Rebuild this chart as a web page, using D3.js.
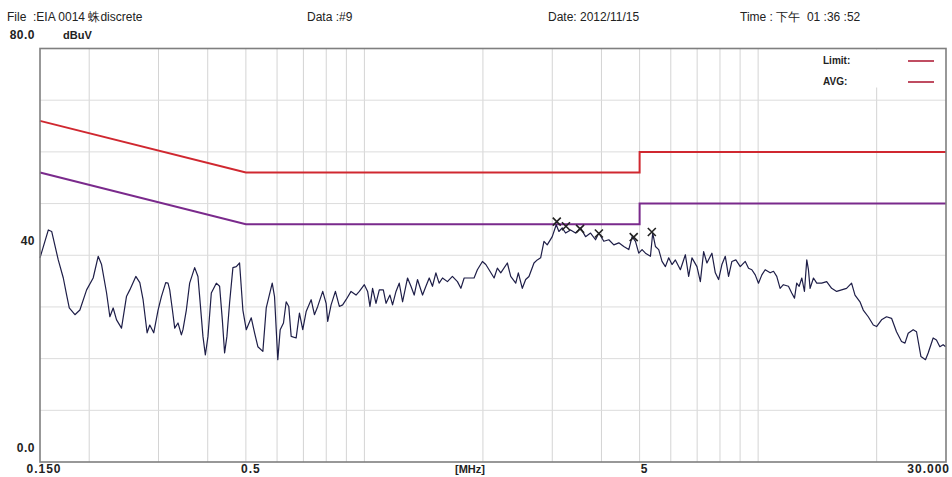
<!DOCTYPE html>
<html><head><meta charset="utf-8">
<script src="https://cdn.jsdelivr.net/npm/d3@7"></script>
<style>html,body{margin:0;padding:0;background:#fff;}</style>
</head><body>
<svg id="chart" width="952" height="477"></svg>
<script>
// ---- data (MHz, dBuV) ----
const freqMHz = [0.150,0.1575,0.1606,0.1669,0.1719,0.1753,0.1780,0.1840,0.1894,0.1970,0.2047,0.2108,0.2150,0.2214,0.2257,0.2301,0.2347,0.2416,0.2487,0.2536,0.2627,0.2689,0.2741,0.2806,0.2850,0.2917,0.2992,0.3051,0.3129,0.3171,0.3203,0.3254,0.3298,0.3362,0.3429,0.3461,0.3530,0.3599,0.3706,0.3778,0.3816,0.3890,0.3945,0.4006,0.4085,0.4206,0.4288,0.4357,0.4415,0.4475,0.4546,0.4635,0.4727,0.4819,0.4913,0.5011,0.5160,0.5261,0.5363,0.5522,0.5632,0.5833,0.5912,0.6026,0.6111,0.6230,0.6329,0.6426,0.6517,0.6709,0.6840,0.6973,0.7113,0.7324,0.7466,0.7611,0.7837,0.7994,0.8069,0.8230,0.8440,0.8638,0.8806,0.8983,0.9249,0.9522,0.9708,0.9996,1.019,1.033,1.049,1.070,1.091,1.117,1.135,1.161,1.179,1.203,1.226,1.250,1.287,1.313,1.338,1.364,1.405,1.433,1.461,1.489,1.519,1.548,1.579,1.625,1.673,1.723,1.758,1.792,1.845,1.899,1.936,1.994,2.034,2.073,2.135,2.176,2.220,2.307,2.353,2.423,2.460,2.518,2.568,2.618,2.696,2.748,2.803,2.858,2.913,3.000,3.070,3.119,3.180,3.243,3.339,3.438,3.540,3.645,3.753,3.864,3.939,4.056,4.176,4.300,4.427,4.558,4.693,4.785,4.880,4.975,5.072,5.174,5.327,5.398,5.484,5.591,5.700,5.814,5.927,6.043,6.163,6.346,6.534,6.661,6.791,6.992,7.132,7.271,7.412,7.631,7.784,7.935,8.090,8.252,8.412,8.576,8.778,9.007,9.274,9.454,9.638,9.831,10.02,10.22,10.42,10.73,10.94,11.15,11.37,11.59,11.94,12.17,12.37,12.53,12.71,12.91,13.11,13.29,13.42,13.55,13.82,14.09,14.50,14.93,15.37,15.83,16.29,16.77,17.27,17.62,18.14,18.49,19.04,19.61,19.99,20.58,21.19,21.82,22.46,23.13,23.60,24.05,24.76,25.25,25.91,26.61,27.03,27.83,28.37,28.94,29.50,29.95];
const levelDbuV = [39.5,44.9,44.6,39.1,35.6,32.3,29.8,28.5,29.4,33.3,35.6,39.8,38.2,32.7,28.1,29.8,27.5,25.9,32.0,33.3,35.9,34.7,31.4,25.0,26.5,25.0,29.4,32.0,34.7,34.6,33.3,29.4,25.9,26.9,24.6,25.6,29.4,34.6,37.6,35.9,32.0,24.3,20.7,24.3,32.7,34.6,34.0,27.5,21.1,24.3,30.8,37.6,37.8,38.5,29.4,25.6,27.9,25.0,22.3,21.4,29.8,34.6,32.0,19.8,25.6,26.9,31.0,30.1,24.3,24.0,28.8,25.6,29.1,31.4,28.5,30.1,33.0,30.7,27.2,30.4,33.0,30.1,30.4,31.4,33.0,32.3,33.0,34.3,33.0,30.1,33.6,30.7,33.3,33.3,30.7,32.3,30.4,33.0,34.6,31.0,35.6,34.0,32.3,35.3,32.3,34.0,35.6,34.0,36.6,34.6,35.6,34.9,35.9,34.9,33.6,35.6,35.6,35.6,37.2,38.8,38.2,37.2,35.6,37.5,36.6,38.5,35.9,34.6,36.6,33.6,35.3,35.9,38.5,39.1,39.5,42.7,42.0,43.6,45.9,44.6,45.3,44.3,44.9,44.3,45.3,43.6,44.3,43.0,44.3,42.7,43.0,42.0,42.4,41.7,41.1,43.6,42.7,40.4,41.1,40.4,39.8,44.3,41.7,41.1,38.8,37.8,39.5,38.2,39.1,37.2,40.1,35.9,39.5,37.8,34.9,40.7,38.5,40.4,36.6,35.3,38.2,39.8,35.9,38.8,39.1,37.8,38.8,37.5,37.2,36.2,34.6,36.2,37.2,36.6,36.9,35.9,33.6,34.3,34.0,32.7,31.7,34.6,34.0,35.6,33.0,39.1,37.2,33.6,35.6,34.6,34.6,34.9,33.6,33.0,33.3,33.6,34.6,32.3,31.0,29.4,28.1,26.5,26.2,27.5,28.1,27.8,25.2,23.3,23.0,24.9,25.6,25.2,20.4,19.8,21.1,24.0,23.6,22.3,22.7,22.3];

const limitFreq = [0.15, 0.5, 5, 5, 30];
const qpLimit  = [66, 56, 56, 60, 60];
const avgLimit = [56, 46, 46, 50, 50];

const markerFreq = [3.08, 3.25, 3.53, 3.94, 4.83, 5.37];
const markerDb   = [46.5, 45.6, 45.1, 44.2, 43.5, 44.5];

const gridFreqs = [0.2,0.3,0.4,0.5,0.6,0.7,0.8,0.9,1,2,3,4,5,6,7,8,9,10,20];
const gridDb = [10,20,30,40,50,60,70];
const xTickVals = [0.15, 0.5, 5, 30];
const xTickLabels = ["0.150", "0.5", "5", "30.000"];
const yTickVals = [0, 40, 80];
const yTickLabels = ["0.0", "40", "80.0"];
const legendNames = ["Limit:", "AVG:"];

const headerTexts = ["File  :EIA 0014 蛛discrete", "Data :#9", "Date: 2012/11/15", "Time : 下午  01 :36 :52"];

// ---- drawing ----
const svg = d3.select("#chart");
const L = 40, R = 946, T = 48.5, B = 462;
const x = d3.scaleLog().domain([0.15, 30]).range([L, R]);
const y = d3.scaleLinear().domain([0, 80]).range([B, T]);

svg.append("rect").attr("width",952).attr("height",477).attr("fill","#fff");

// header
const hx = [7, 307, 548, 740];
svg.selectAll("text.hdr").data(headerTexts).join("text")
  .attr("class","hdr").attr("x",(d,i)=>hx[i]).attr("y",21)
  .attr("font-family","Liberation Sans, Arial, sans-serif").attr("font-size",12)
  .attr("fill","#222").attr("xml:space","preserve").style("white-space","pre").text(d=>d);

// grid
svg.append("g").selectAll("line").data(gridFreqs).join("line")
  .attr("x1",d=>x(d)).attr("x2",d=>x(d)).attr("y1",T).attr("y2",B)
  .attr("stroke","#d4d4d4").attr("stroke-width",1);
svg.append("g").selectAll("line").data(gridDb).join("line")
  .attr("x1",L).attr("x2",R).attr("y1",d=>y(d)).attr("y2",d=>y(d))
  .attr("stroke","#dcdcdc").attr("stroke-width",1);

// legend box
svg.append("rect").attr("x",815).attr("y",T+1).attr("width",R-815-1).attr("height",38).attr("fill","#fff");
svg.selectAll("text.leg").data(legendNames).join("text").attr("class","leg")
  .attr("x",823).attr("y",(d,i)=>64+i*21)
  .attr("font-family","Liberation Sans, Arial, sans-serif").attr("font-size",10).attr("font-weight","bold")
  .attr("fill","#222").text(d=>d);
svg.selectAll("line.leg").data(legendNames).join("line").attr("class","leg")
  .attr("x1",908).attr("x2",934).attr("y1",(d,i)=>61+i*21).attr("y2",(d,i)=>61+i*21)
  .attr("stroke","#b0203a").attr("stroke-width",1.6);

// limit lines
const limLine = (vals) => d3.line().x((d,i)=>x(limitFreq[i])).y(d=>y(d))(vals);
svg.append("path").attr("d",limLine(qpLimit)).attr("fill","none").attr("stroke","#d02830").attr("stroke-width",2);
svg.append("path").attr("d",limLine(avgLimit)).attr("fill","none").attr("stroke","#7a2a8c").attr("stroke-width",2);

// trace
const pts = freqMHz.map((f,i)=>[f, levelDbuV[i]]);
svg.append("path").attr("d", d3.line().x(d=>x(d[0])).y(d=>y(d[1]))(pts))
  .attr("fill","none").attr("stroke","#1e1e48").attr("stroke-width",1.2).attr("stroke-linejoin","round");

// markers
svg.append("g").selectAll("path").data(markerFreq).join("path")
  .attr("transform",(d,i)=>`translate(${x(d)},${y(markerDb[i])})`)
  .attr("d","M-4,-4L4,4M-4,4L4,-4").attr("stroke","#222").attr("stroke-width",1.6).attr("fill","none");

// frame
svg.append("rect").attr("x",L).attr("y",T).attr("width",R-L).attr("height",B-T)
  .attr("fill","none").attr("stroke","#7f7f7f").attr("stroke-width",1.6);

// axis labels
const xa = svg.append("g");
xa.selectAll("text").data(xTickVals).join("text")
  .attr("x",(d,i)=> i===xTickVals.length-1 ? x(d)+4 : x(d)+ (i===0?4:5))
  .attr("y",473)
  .attr("text-anchor",(d,i)=> i===xTickVals.length-1 ? "end" : "middle")
  .attr("font-family","Liberation Sans, Arial, sans-serif").attr("font-size",12).attr("font-weight","bold")
  .attr("letter-spacing",1).attr("fill","#222").text((d,i)=>xTickLabels[i]);
xa.append("text").attr("x",455).attr("y",473)
  .attr("font-family","Liberation Sans, Arial, sans-serif").attr("font-size",11).attr("font-weight","bold")
  .attr("fill","#222").text("[MHz]");

const ya = svg.append("g");
ya.selectAll("text").data(yTickVals).join("text")
  .attr("x",35).attr("y",d=>y(d)-10).attr("text-anchor","end")
  .attr("font-family","Liberation Sans, Arial, sans-serif").attr("font-size",12).attr("font-weight","bold")
  .attr("letter-spacing",0.5).attr("fill","#222").text((d,i)=>yTickLabels[i]);
ya.append("text").attr("x",63).attr("y",y(80)-10)
  .attr("font-family","Liberation Sans, Arial, sans-serif").attr("font-size",11).attr("font-weight","bold")
  .attr("fill","#222").text("dBuV");
</script>
</body></html>
